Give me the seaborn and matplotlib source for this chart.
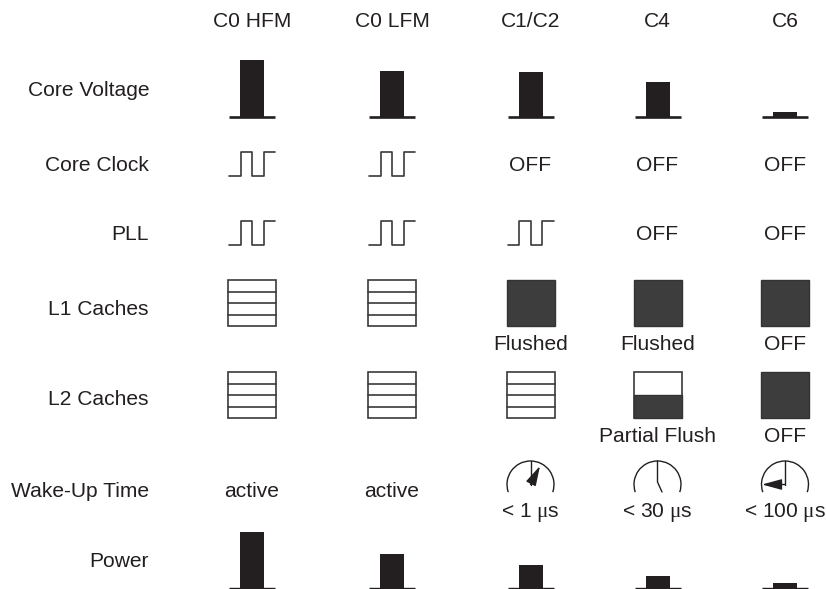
import numpy as np
import pandas as pd
import matplotlib
matplotlib.use("Agg")
import matplotlib.pyplot as plt
from matplotlib.patches import Arc, Rectangle
import seaborn as sns

# ---- data ----
STATES = ["C0 HFM", "C0 LFM", "C1/C2", "C4", "C6"]
ROW_LABELS = ["Core Voltage", "Core Clock", "PLL", "L1 Caches", "L2 Caches", "Wake-Up Time", "Power"]
CORE_VOLTAGE = [57, 46, 45, 35, 5]
POWER = [56, 34, 23, 12, 5]
CORE_CLOCK = ["wave", "wave", "OFF", "OFF", "OFF"]
PLL = ["wave", "wave", "wave", "OFF", "OFF"]
L1_CACHES = ["lines", "lines", "full", "full", "full"]
L1_NOTES = ["", "", "Flushed", "Flushed", "OFF"]
L2_CACHES = ["lines", "lines", "lines", "half", "full"]
L2_NOTES = ["", "", "", "Partial Flush", "OFF"]
WAKE_TEXT = ["active", "active", "", "", ""]
WAKE_NOTES = ["", "", "< 1 $\\mu$s", "< 30 $\\mu$s", "< 100 $\\mu$s"]
WAKE_NEEDLE = [None, None, "arrow_ne", "plain", "arrow_w"]
WAVE_LEVELS = [0, 1, 0, 1, 1]

# ---- layout (figure pixels) ----
COL_X = [252, 392, 530.5, 657.5, 785]
ROW_BASE = [96, 171, 240, 315, 405, 497, 567]
INK = "#231f20"
FILL = "#3d3d3d"
LINE = "#3a3a3a"
FS = 15.1

sns.set_theme(style="white")
plt.rcParams["font.family"] = ["Liberation Sans", "DejaVu Sans"]
plt.rcParams["mathtext.fontset"] = "custom"
plt.rcParams["mathtext.rm"] = "Liberation Sans"
plt.rcParams["mathtext.it"] = "Liberation Serif"
fig = plt.figure(figsize=(8.26, 5.89), dpi=100, facecolor="white")
ax = fig.add_axes([0, 0, 1, 1])


def bars(values, baseline, line_w):
    df = pd.DataFrame({"x": COL_X, "h": [-v for v in values]})
    sns.barplot(data=df, x="x", y="h", native_scale=True, errorbar=None, ax=ax,
                color=INK, saturation=1, width=24 / 127, linewidth=0, bottom=baseline)
    for cx in COL_X:
        ax.plot([cx - 23, cx + 23], [baseline, baseline], color=INK, lw=line_w,
                solid_capstyle="butt")


def wave(cx, cy):
    steps = np.arange(len(WAVE_LEVELS))
    xs = cx - 23 + steps * 11.5
    ys = cy + 12 - np.array(WAVE_LEVELS) * 24
    df = pd.DataFrame({"x": xs, "y": ys})
    sns.lineplot(data=df, x="x", y="y", drawstyle="steps-post", estimator=None, sort=False,
                 color=LINE, lw=1.2, ax=ax)


def box(cx, top, kind):
    w, h = 48, 46
    left = cx - w / 2
    if kind == "lines":
        ax.add_patch(Rectangle((left, top), w, h, fc="white", ec=LINE, lw=1.2))
        for k in (1, 2, 3):
            y = top + k * h / 4
            ax.plot([left, left + w], [y, y], color=LINE, lw=1.2)
    elif kind == "full":
        ax.add_patch(Rectangle((left, top), w, h, fc=FILL, ec="#333333", lw=1.0))
    else:
        ax.add_patch(Rectangle((left, top), w, h, fc="white", ec=LINE, lw=1.2))
        ax.add_patch(Rectangle((left, top + h / 2), w, h / 2, fc=FILL, ec="#333333", lw=1.0))


def gauge(cx, kind):
    cy, r = 484.5, 23.5
    ax.add_patch(Arc((cx, cy), 2 * r, 2 * r, theta1=161, theta2=19, color=INK, lw=1.0))
    if kind == "plain":
        ax.plot([cx, cx, cx + 4.5], [461, 482, 492], color=INK, lw=1.0)
        return
    ax.plot([cx, cx], [461, cy], color=INK, lw=1.0)
    tip = (cx + 9.5, 466) if kind == "arrow_ne" else (cx - 23, cy)
    ax.annotate("", xy=tip, xytext=(cx, cy),
                arrowprops=dict(arrowstyle="-|>,head_length=1.1,head_width=0.3", color=INK,
                                lw=1.0, shrinkA=0, shrinkB=0, mutation_scale=11))


def label(x, y, s, ha="center"):
    ax.text(x, y, s, ha=ha, va="baseline", fontsize=FS, color=INK)


bars(CORE_VOLTAGE, 117, 1.9)
bars(POWER, 588, 1.0)

for cx, s in zip(COL_X, STATES):
    label(cx, 27, s)
for y, s in zip(ROW_BASE, ROW_LABELS):
    label(149, y, s, ha="right")

for row, y, wy in ((CORE_CLOCK, 171, 164), (PLL, 240, 233)):
    for cx, v in zip(COL_X, row):
        if v == "wave":
            wave(cx, wy)
        else:
            label(cx, y, v)

for kinds, notes, top, note_y in ((L1_CACHES, L1_NOTES, 280, 350), (L2_CACHES, L2_NOTES, 372, 442)):
    for cx, k, n in zip(COL_X, kinds, notes):
        box(cx, top, k)
        if n:
            label(cx, note_y, n)

for cx, t, n, k in zip(COL_X, WAKE_TEXT, WAKE_NOTES, WAKE_NEEDLE):
    if t:
        label(cx, 497, t)
    if n:
        label(cx, 517, n)
    if k:
        gauge(cx, k)

ax.set_xlim(0, 826)
ax.set_ylim(589, 0)
ax.set_xlabel("")
ax.set_ylabel("")
ax.set_xticks([])
ax.set_yticks([])
for sp in ax.spines.values():
    sp.set_visible(False)
if ax.get_legend():
    ax.get_legend().remove()
fig.savefig("out.png", dpi=100, facecolor="white")
